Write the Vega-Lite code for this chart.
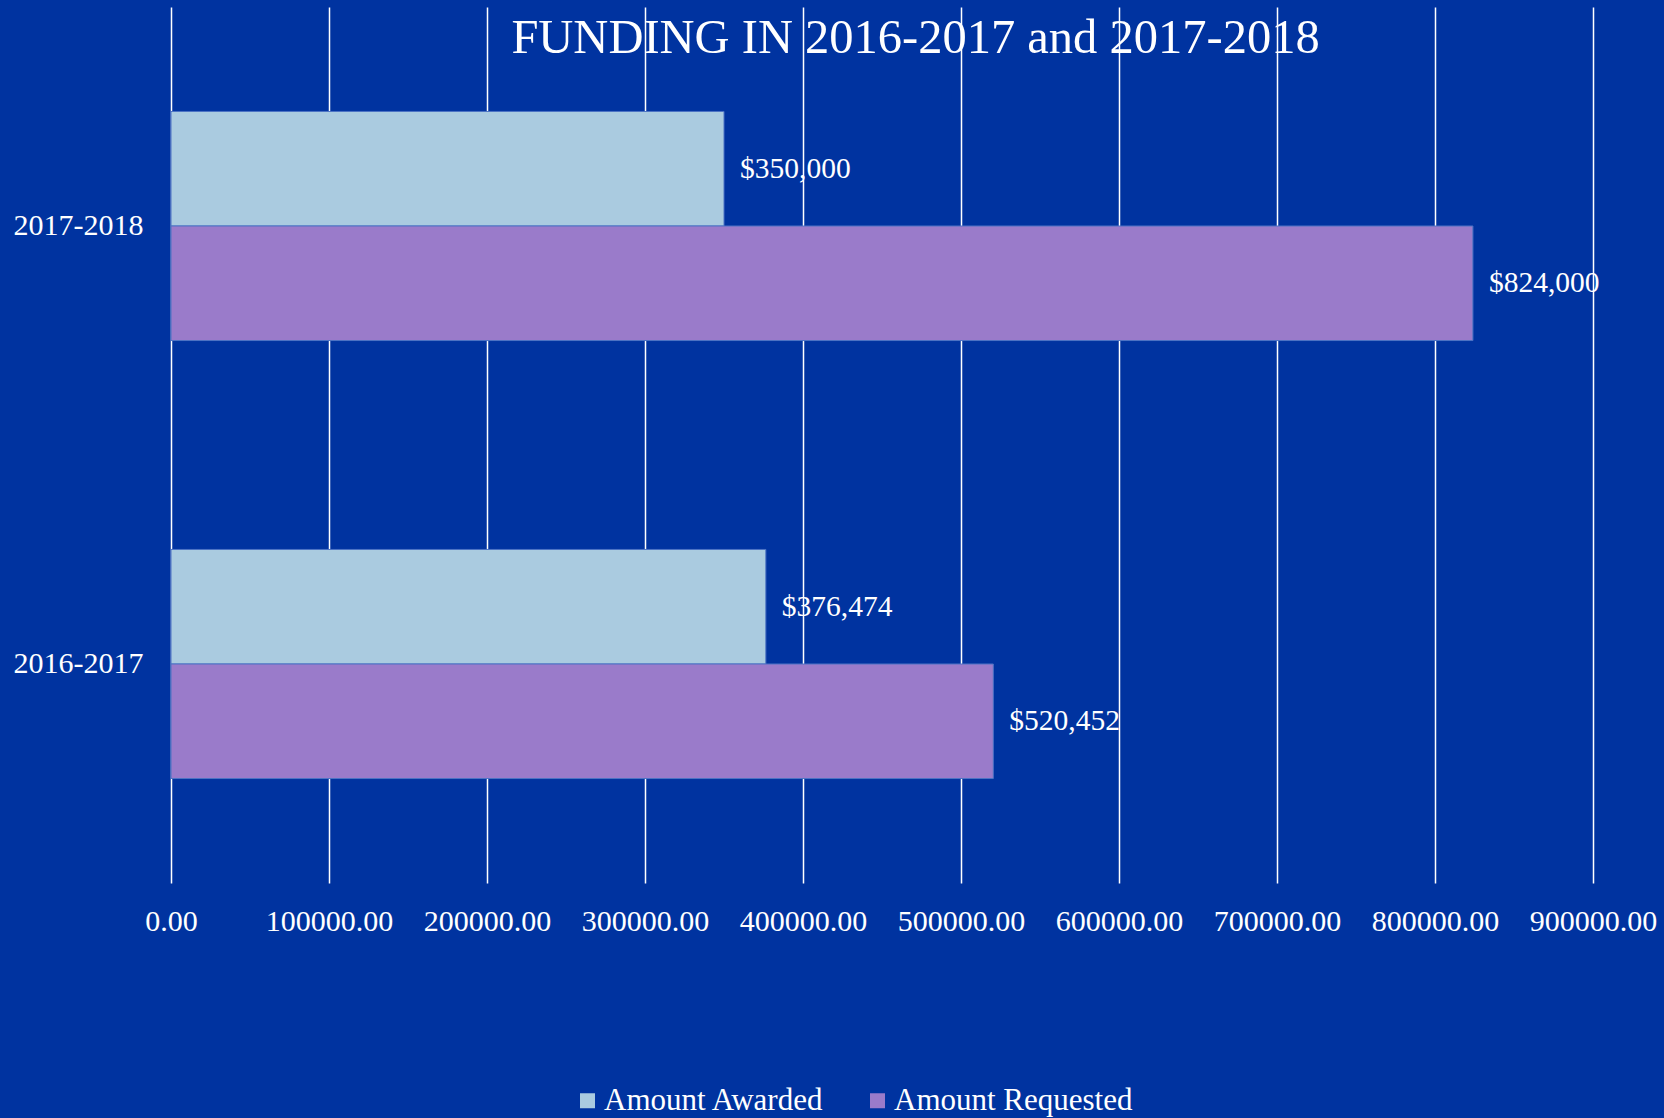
{
  "$schema": "https://vega.github.io/schema/vega-lite/v6.json",
  "autosize": {"type": "none"},
  "width": 1422,
  "height": 876,
  "padding": {"left": 171, "top": 7, "right": 71, "bottom": 235},
  "background": "#0033a0",
  "data": {
    "values": [
      {"year": "2017-2018", "series": "Amount Awarded", "value": 350000},
      {"year": "2017-2018", "series": "Amount Requested", "value": 824000},
      {"year": "2016-2017", "series": "Amount Awarded", "value": 376474},
      {"year": "2016-2017", "series": "Amount Requested", "value": 520452}
    ]
  },
  "encoding": {
    "y": {
      "field": "year",
      "type": "nominal",
      "sort": ["2017-2018", "2016-2017"],
      "scale": {"paddingInner": 0.477, "paddingOuter": 0.2385},
      "axis": {
        "title": "FUNDING IN 2016-2017 and 2017-2018",
        "titleFont": "Liberation Serif",
        "titleFontSize": 48.5,
        "titleFontWeight": "normal",
        "titleColor": "white",
        "titleAngle": 0,
        "titleAlign": "center",
        "titleBaseline": "alphabetic",
        "titleX": 744,
        "titleY": 45,
        "domain": false,
        "ticks": false,
        "grid": false,
        "labelFont": "Liberation Serif",
        "labelFontSize": 30,
        "labelColor": "white",
        "labelPadding": 28
      }
    },
    "yOffset": {
      "field": "series",
      "type": "nominal",
      "sort": ["Amount Awarded", "Amount Requested"],
      "scale": {"paddingInner": 0, "paddingOuter": 0}
    },
    "x": {
      "field": "value",
      "type": "quantitative",
      "scale": {"domain": [0, 900000], "nice": false},
      "axis": {
        "title": null,
        "domain": false,
        "ticks": false,
        "grid": true,
        "gridColor": "white",
        "gridWidth": 1.5,
        "gridOpacity": 1,
        "values": [0, 100000, 200000, 300000, 400000, 500000, 600000, 700000, 800000, 900000],
        "format": ".2f",
        "labelFlush": false,
        "labelFont": "Liberation Serif",
        "labelFontSize": 30,
        "labelColor": "white",
        "labelPadding": 23
      }
    }
  },
  "layer": [
    {
      "mark": {"type": "bar", "stroke": "#4d73c4", "strokeWidth": 1},
      "encoding": {
        "color": {
          "field": "series",
          "type": "nominal",
          "scale": {"domain": ["Amount Awarded", "Amount Requested"], "range": ["#aacbe0", "#9a7bca"]},
          "legend": {
            "orient": "none",
            "legendX": 401,
            "legendY": 1078,
            "direction": "horizontal",
            "title": null,
            "symbolType": "square",
            "symbolSize": 225,
            "symbolStrokeWidth": 0,
            "symbolOpacity": 1,
            "labelFont": "Liberation Serif",
            "labelFontSize": 31,
            "labelLimit": 500,
            "labelColor": "white",
            "labelOffset": 1,
            "columnPadding": 37
          }
        }
      }
    },
    {
      "mark": {"type": "text", "align": "left", "baseline": "middle", "dx": 16, "font": "Liberation Serif", "fontSize": 29.5, "color": "white"},
      "encoding": {
        "text": {"field": "value", "type": "quantitative", "format": "$,.0f"}
      }
    }
  ],
  "config": {"view": {"stroke": null}}
}
